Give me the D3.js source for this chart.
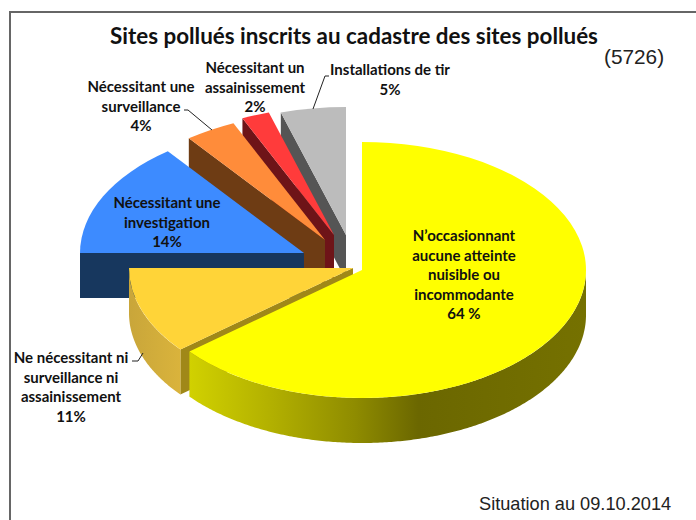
<!DOCTYPE html>
<html>
<head>
<meta charset="utf-8">
<script src="https://cdn.jsdelivr.net/npm/d3@7"></script>
<style>
  html, body { margin: 0; padding: 0; background: #fff; overflow: hidden; }
  svg { display: block; }
</style>
</head>
<body>
<div id="chart"></div>
<script>
const categories = ["N'occasionnant", "Ne nécessitant ni", "Investigation", "Surveillance", "Assainissement", "Installations de tir"];
const values = [64, 11, 14.6, 3.7, 2, 4.7];

const titleText = "Sites pollués inscrits au cadastre des sites pollués";
const totalText = "(5726)";
const situationText = "Situation au 09.10.2014";

const width = 696;
const height = 520;

// Radii of the tilted pie and height of its side wall
const rx = 224;
const ry = 128;
const depth = 45;

// Each slice is pulled out of the pie, so each has its own centre
const centres = [[362, 270], [353, 268], [304, 253], [325, 240], [334, 235], [346, 235]];
const topColors = ["#ffff00", "#ffd438", "#3d8bff", "#ff8c3a", "#ff3b3b", "#bcbcbc"];
const edgeColors = ["#8f8c00", "#a08818", "#17375e", "#6e3c14", "#6e1418", "#555555"];
const wallColors = ["url(#yellowWall)", "url(#orangeWall)", "#17375e", "#6e3c14", "#6e1418", "#555555"];

// Back slices are painted first, the yellow one last
const drawOrder = [5, 4, 3, 2, 1, 0];

const svg = d3.select("#chart")
  .append("svg")
  .attr("width", width)
  .attr("height", height);

const defs = svg.append("defs");

const yellowWall = defs.append("linearGradient")
  .attr("id", "yellowWall")
  .attr("gradientUnits", "userSpaceOnUse")
  .attr("x1", 187).attr("x2", 586).attr("y1", 0).attr("y2", 0);
[[0, "#d2d200"], [0.2, "#b4b200"], [0.42, "#8f8c00"], [0.58, "#6b6700"], [1, "#757100"]].forEach(s => {
  yellowWall.append("stop").attr("offset", s[0]).attr("stop-color", s[1]);
});

const orangeWall = defs.append("linearGradient")
  .attr("id", "orangeWall")
  .attr("gradientUnits", "userSpaceOnUse")
  .attr("x1", 130).attr("x2", 187).attr("y1", 0).attr("y2", 0);
[[0, "#c9a63a"], [1, "#dcb53c"]].forEach(s => {
  orangeWall.append("stop").attr("offset", s[0]).attr("stop-color", s[1]);
});

// Frame, only top and left sides
svg.append("path")
  .attr("d", `M10,${height} V12 H${width}`)
  .attr("fill", "none")
  .attr("stroke", "#666")
  .attr("stroke-width", 2);

// Angles come from d3.pie, clockwise from 12 o'clock, in data order
const pie = d3.pie().sort(null).value(d => d);
const arcs = pie(values);

const arcPath = d3.arc().innerRadius(0).outerRadius(rx);
const wallLine = d3.line();

// Point on the ellipse, angle measured like d3.arc
const ellipsePoint = (c, a) => [c[0] + rx * Math.sin(a), c[1] - ry * Math.cos(a)];

const slices = svg.selectAll(".slice")
  .data(drawOrder)
  .enter()
  .append("g")
  .attr("class", "slice");

// Flat wall on the start side of the slice
slices.append("path")
  .attr("d", i => {
    const c = centres[i];
    const p = ellipsePoint(c, arcs[i].startAngle);
    return wallLine([c, p, [p[0], p[1] + depth], [c[0], c[1] + depth]]) + "Z";
  })
  .attr("fill", i => edgeColors[i]);

// Curved outer wall, only the front half of the ellipse can be seen
slices.append("path")
  .attr("d", i => {
    const c = centres[i];
    const from = Math.max(arcs[i].startAngle, Math.PI / 2);
    const to = Math.min(arcs[i].endAngle, Math.PI * 1.5);
    if (to <= from) return null;
    const front = d3.range(from, to, 0.01).concat([to]).map(a => ellipsePoint(c, a));
    const back = front.map(p => [p[0], p[1] + depth]).reverse();
    return wallLine(front.concat(back)) + "Z";
  })
  .attr("fill", i => wallColors[i]);

// Top surface: a d3.arc squashed into an ellipse
slices.append("path")
  .attr("d", i => arcPath(arcs[i]))
  .attr("transform", i => `translate(${centres[i][0]},${centres[i][1]}) scale(1,${ry / rx})`)
  .attr("fill", i => topColors[i]);

// Leader lines
const leaders = [
  "M184,110 H188 L212,130",
  "M329,76 H325 L313,109",
  "M132,361 H138 L143,353"
];
svg.selectAll(".leader")
  .data(leaders)
  .enter()
  .append("path")
  .attr("class", "leader")
  .attr("d", d => d)
  .attr("fill", "none")
  .attr("stroke", "#222")
  .attr("stroke-width", 1);

// Text blocks
const labels = [
  {x: 464, y: 241, lines: ["N’occasionnant", "aucune atteinte", "nuisible ou", "incommodante", "64 %"]},
  {x: 167, y: 208, lines: ["Nécessitant une", "investigation", "14%"]},
  {x: 141, y: 92, lines: ["Nécessitant une", "surveillance", "4%"]},
  {x: 255, y: 73, lines: ["Nécessitant un", "assainissement", "2%"]},
  {x: 390, y: 75, lines: ["Installations de tir", "5%"]},
  {x: 71, y: 363, lines: ["Ne nécessitant ni", "surveillance ni", "assainissement", "11%"]}
];

const labelText = svg.selectAll(".label")
  .data(labels)
  .enter()
  .append("text")
  .attr("class", "label")
  .attr("text-anchor", "middle")
  .attr("font-family", "Lato, 'Open Sans', sans-serif")
  .attr("font-weight", "bold")
  .attr("font-size", 15)
  .attr("fill", "#111");

labelText.selectAll("tspan")
  .data(d => d.lines.map((t, k) => ({t: t, x: d.x, y: d.y + k * 19.5})))
  .enter()
  .append("tspan")
  .attr("x", d => d.x)
  .attr("y", d => d.y)
  .text(d => d.t);

svg.append("text")
  .attr("x", 354)
  .attr("y", 44)
  .attr("text-anchor", "middle")
  .attr("font-family", "Lato, 'Open Sans', sans-serif")
  .attr("font-weight", "bold")
  .attr("font-size", 22.4)
  .attr("fill", "#111")
  .text(titleText);

svg.append("text")
  .attr("x", 604)
  .attr("y", 64)
  .attr("font-family", "'Liberation Sans', Arial, sans-serif")
  .attr("font-size", 20.8)
  .attr("fill", "#222")
  .text(totalText);

svg.append("text")
  .attr("x", 479)
  .attr("y", 510)
  .attr("font-family", "'Liberation Sans', Arial, sans-serif")
  .attr("font-size", 18.2)
  .attr("fill", "#222")
  .text(situationText);
</script>
</body>
</html>
